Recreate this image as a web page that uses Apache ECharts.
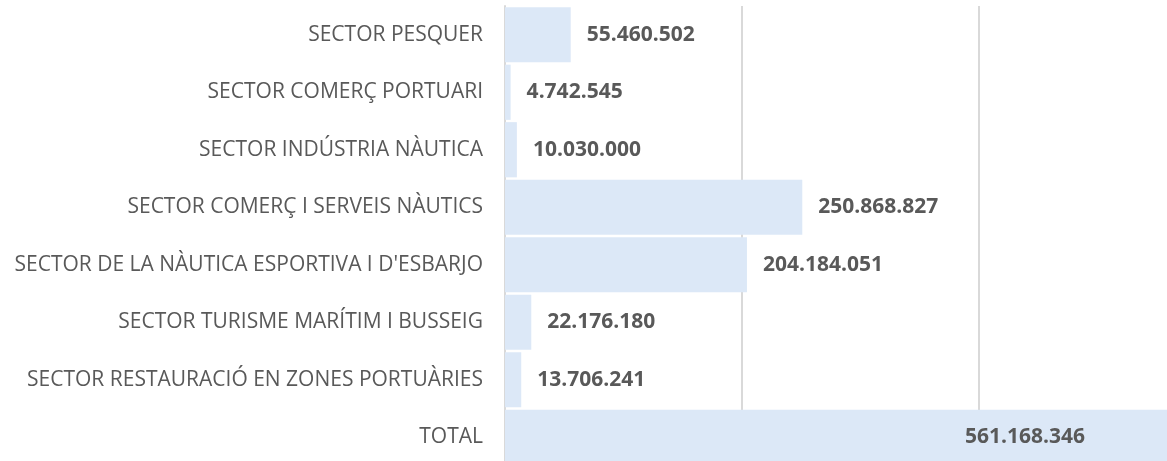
<!DOCTYPE html>
<html>
<head>
<meta charset="utf-8">
<script src="https://cdn.jsdelivr.net/npm/echarts@6/dist/echarts.min.js"></script>
<style>
html,body{margin:0;padding:0;background:#fff;overflow:hidden;}
#chart{width:1167px;height:461px;}
</style>
</head>
<body>
<div id="chart"></div>
<script>
const categories = [
  "SECTOR PESQUER",
  "SECTOR COMERÇ PORTUARI",
  "SECTOR INDÚSTRIA NÀUTICA",
  "SECTOR COMERÇ I SERVEIS NÀUTICS",
  "SECTOR DE LA NÀUTICA ESPORTIVA I D'ESBARJO",
  "SECTOR TURISME MARÍTIM I BUSSEIG",
  "SECTOR RESTAURACIÓ EN ZONES PORTUÀRIES",
  "TOTAL"
];
const values = [55460502, 4742545, 10030000, 250868827, 204184051, 22176180, 13706241, 561168346];

function fmt(v){
  return String(v).replace(/\B(?=(\d{3})+(?!\d))/g, ".");
}

const chart = echarts.init(document.getElementById('chart'), null, {renderer:'canvas'});
const barColor = '#dce8f7';
const data = values.map((v,i) => {
  const item = {value: v};
  if (categories[i] === 'TOTAL') {
    item.label = {position: 'insideRight', distance: 85};
  }
  return item;
});
chart.setOption({
  animation: false,
  grid: {left: 505, width: 711, top: 6, height: 460, containLabel: false, outerBoundsMode: 'none'},
  xAxis: {
    type: 'value', min: 0, max: 600000000, interval: 200000000,
    axisLabel: {show: false}, axisTick: {show: false}, axisLine: {show: false},
    splitLine: {show: true, lineStyle: {color: '#d9d9d9', width: 2}}
  },
  yAxis: {
    type: 'category', inverse: true, data: categories,
    axisTick: {show: false},
    axisLine: {show: true, lineStyle: {color: '#d9d9d9', width: 2}},
    axisLabel: {color: '#595959', fontFamily: 'Open Sans', fontSize: 21, margin: 22, padding: [8,0,0,0]}
  },
  series: [{
    type: 'bar', data: data, barCategoryGap: '4%',
    itemStyle: {color: barColor},
    label: {
      show: true, position: 'right', distance: 16, padding: [8,0,0,0],
      color: '#595959', fontFamily: 'Open Sans', fontWeight: 'bold', fontSize: 21,
      formatter: p => fmt(p.value)
    }
  }]
});
</script>
</body>
</html>
